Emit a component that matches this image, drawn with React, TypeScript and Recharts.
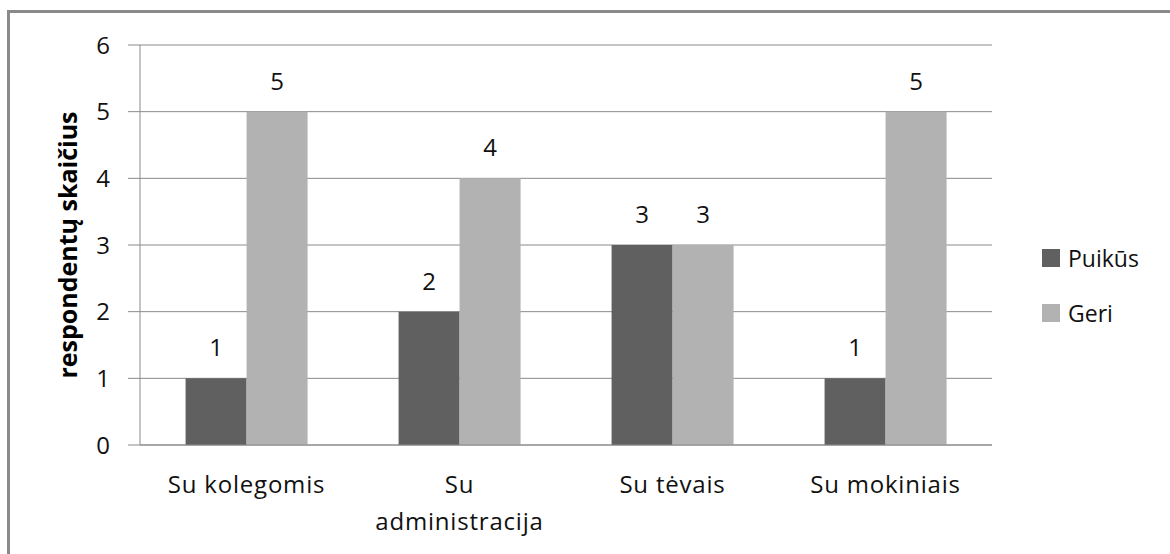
import { Bar, BarChart, CartesianGrid, LabelList, XAxis, YAxis } from "recharts";

const CATEGORIES = ["Su kolegomis", "Su administracija", "Su tėvais", "Su mokiniais"];
const PUIKUS = [1, 2, 3, 1];
const GERI = [5, 4, 3, 5];
const Y_TICKS = [0, 1, 2, 3, 4, 5, 6];

const SERIES = [
  { key: "puikus", label: "Puikūs", color: "#606060" },
  { key: "geri", label: "Geri", color: "#b2b2b2" },
];

const FONT = "'Open Sans', sans-serif";
const AXIS_COLOR = "#8a8a8a";

const data = CATEGORIES.map((name, i) => ({
  name,
  puikus: PUIKUS[i],
  geri: GERI[i],
}));

function CategoryTick({ x = 0, y = 0, payload }: any) {
  const text: string = payload?.value ?? "";
  const lines =
    text.length > 14
      ? [text.slice(0, text.indexOf(" ")), text.slice(text.indexOf(" ") + 1)]
      : [text];
  return (
    <text
      x={x}
      y={y}
      textAnchor="middle"
      fill="#111"
      fontSize={24}
      fontFamily={FONT}
      letterSpacing={0.8}
    >
      {lines.map((line, i) => (
        <tspan key={i} x={x} dy={i === 0 ? 40 : 37}>
          {line}
        </tspan>
      ))}
    </text>
  );
}

function YTitle({ viewBox }: any) {
  const cx = viewBox.x - 13;
  const cy = viewBox.y + viewBox.height / 2;
  return (
    <text
      x={cx}
      y={cy}
      transform={`rotate(-90, ${cx}, ${cy})`}
      textAnchor="middle"
      dominantBaseline="central"
      fontSize={25}
      fontWeight="bold"
      fontFamily={FONT}
      fill="#000"
    >
      respondentų skaičius
    </text>
  );
}

function LegendBox() {
  return (
    <div
      style={{
        position: "absolute",
        left: 1042,
        top: 230,
        fontFamily: FONT,
        fontSize: 23,
        color: "#111",
      }}
    >
      {SERIES.map((s) => (
        <div
          key={s.key}
          style={{ display: "flex", alignItems: "center", height: 55 }}
        >
          <span
            style={{
              display: "inline-block",
              width: 18,
              height: 18,
              background: s.color,
              marginRight: 8,
            }}
          />
          <span>{s.label}</span>
        </div>
      ))}
    </div>
  );
}

export default function App() {
  return (
    <div
      style={{
        position: "absolute",
        left: 0,
        top: 0,
        width: 1170,
        height: 554,
        overflow: "hidden",
        background: "#fff",
      }}
    >
      <div
        style={{
          position: "absolute",
          left: 7,
          top: 10,
          width: 1300,
          height: 700,
          borderLeft: `3px solid ${AXIS_COLOR}`,
          borderTop: `3px solid ${AXIS_COLOR}`,
        }}
      />
      <div style={{ position: "absolute", left: 0, top: 0 }}>
        <BarChart
          width={1170}
          height={554}
          data={data}
          margin={{ top: 45, right: 178, bottom: 0, left: 80 }}
          barCategoryGap="21.4%"
          barGap={0}
        >
          <CartesianGrid
            vertical={false}
            stroke={AXIS_COLOR}
            strokeWidth={1}
          />
          <XAxis
            dataKey="name"
            interval={0}
            height={109}
            axisLine={{ stroke: AXIS_COLOR }}
            tickLine={false}
            tick={<CategoryTick />}
          />
          <YAxis
            width={60}
            domain={[0, 6]}
            ticks={Y_TICKS}
            tickSize={12}
            tickMargin={18}
            axisLine={{ stroke: AXIS_COLOR }}
            tickLine={{ stroke: AXIS_COLOR }}
            tick={{ fill: "#111", fontSize: 24, fontFamily: FONT }}
            label={<YTitle />}
          />
          {SERIES.map((s) => (
            <Bar
              key={s.key}
              dataKey={s.key}
              name={s.label}
              fill={s.color}
              isAnimationActive={false}
            >
              <LabelList
                dataKey={s.key}
                position="top"
                offset={22}
                fill="#111"
                fontSize={24}
                fontFamily={FONT}
              />
            </Bar>
          ))}
        </BarChart>
      </div>
      <LegendBox />
    </div>
  );
}
